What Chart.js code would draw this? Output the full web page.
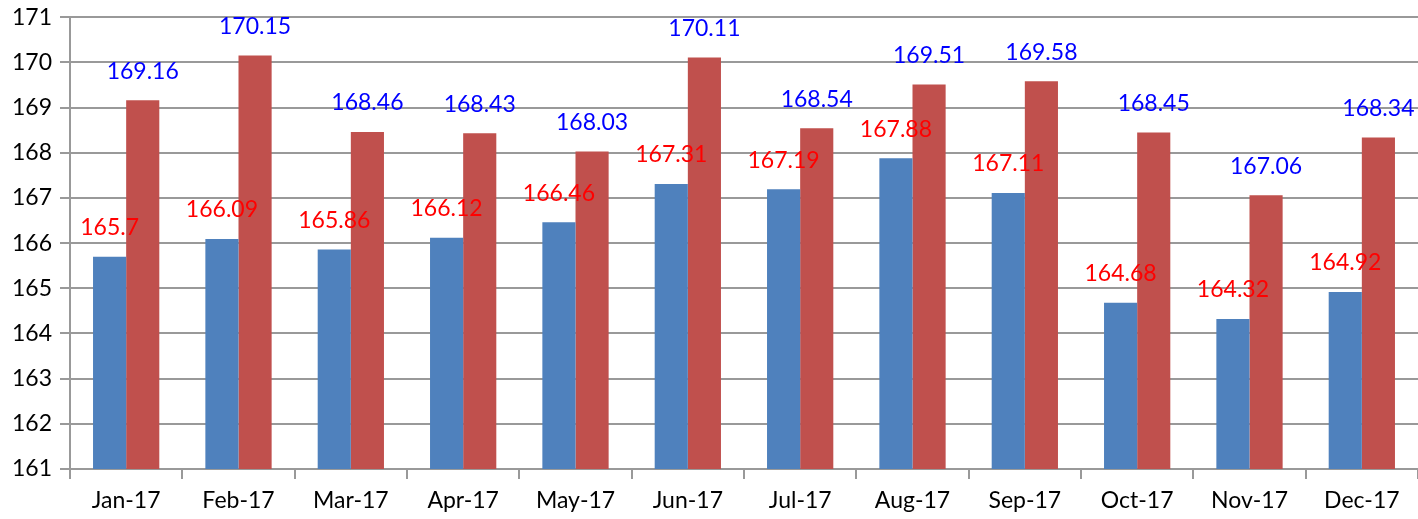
<!DOCTYPE html>
<html>
<head>
<meta charset="utf-8">
<script src="https://cdn.jsdelivr.net/npm/chart.js@4/dist/chart.umd.min.js"></script>
<style>
  html, body { margin: 0; padding: 0; background: #fff; }
  #wrap { width: 1418px; height: 519px; }
</style>
</head>
<body>
<div id="wrap"><canvas id="barChart"></canvas></div>
<script>
// ---------------- Data ----------------
const months = ["Jan-17", "Feb-17", "Mar-17", "Apr-17", "May-17", "Jun-17",
  "Jul-17", "Aug-17", "Sep-17", "Oct-17", "Nov-17", "Dec-17"];
const blueValues = [165.7, 166.09, 165.86, 166.12, 166.46, 167.31,
  167.19, 167.88, 167.11, 164.68, 164.32, 164.92];
const redValues = [169.16, 170.15, 168.46, 168.43, 168.03, 170.11,
  168.54, 169.51, 169.58, 168.45, 167.06, 168.34];
const yTicks = [161, 162, 163, 164, 165, 166, 167, 168, 169, 170, 171];

const FONT = "Lato, 'Open Sans', sans-serif";
const gridColor = "#999999";

// Value labels above each bar (label colour set per dataset)
const barLabels = {
  id: "barLabels",
  afterDatasetsDraw(chart) {
    const ctx = chart.ctx;
    ctx.save();
    ctx.font = "23px " + FONT;
    ctx.textAlign = "center";
    ctx.textBaseline = "middle";
    chart.data.datasets.forEach((ds, i) => {
      const meta = chart.getDatasetMeta(i);
      ctx.fillStyle = ds.labelColor;
      meta.data.forEach((bar, j) => {
        ctx.fillText(String(ds.data[j]), bar.x, bar.y - 29);
      });
    });
    ctx.restore();
  },
};

const ctx = document.getElementById("barChart").getContext("2d");
new Chart(ctx, {
  type: "bar",
  data: {
    labels: months,
    datasets: [
      {
        label: "Series 1",
        data: blueValues,
        backgroundColor: "#4F81BD",
        labelColor: "#FF0000",
        categoryPercentage: 0.59,
        barPercentage: 1.0,
      },
      {
        label: "Series 2",
        data: redValues,
        backgroundColor: "#C0504D",
        labelColor: "#0000FF",
        categoryPercentage: 0.59,
        barPercentage: 1.0,
      },
    ],
  },
  options: {
    responsive: true,
    maintainAspectRatio: false,
    animation: false,
    layout: { padding: { top: 16, right: 0, bottom: 0, left: 0 } },
    plugins: {
      legend: { display: false },
      tooltip: { enabled: false },
    },
    scales: {
      x: {
        grid: {
          display: true,
          drawOnChartArea: false,
          offset: true,
          tickLength: 10,
          color: gridColor,
          lineWidth: 2,
        },
        border: { color: gridColor, width: 2 },
        ticks: {
          color: "#000",
          font: { family: FONT, size: 23 },
          padding: 8,
          maxRotation: 0,
        },
        afterFit(scale) { scale.height = 50; },
      },
      y: {
        min: yTicks[0],
        max: yTicks[yTicks.length - 1],
        afterBuildTicks(scale) {
          scale.ticks = yTicks.map((v) => ({ value: v }));
        },
        grid: {
          color: gridColor,
          lineWidth: 2,
          tickLength: 10,
        },
        border: { color: gridColor, width: 2 },
        ticks: {
          color: "#000",
          font: { family: FONT, size: 23, lineHeight: 0.8 },
          padding: 8,
        },
        afterFit(scale) { scale.width = 70; },
      },
    },
  },
  plugins: [barLabels],
});
</script>
</body>
</html>
